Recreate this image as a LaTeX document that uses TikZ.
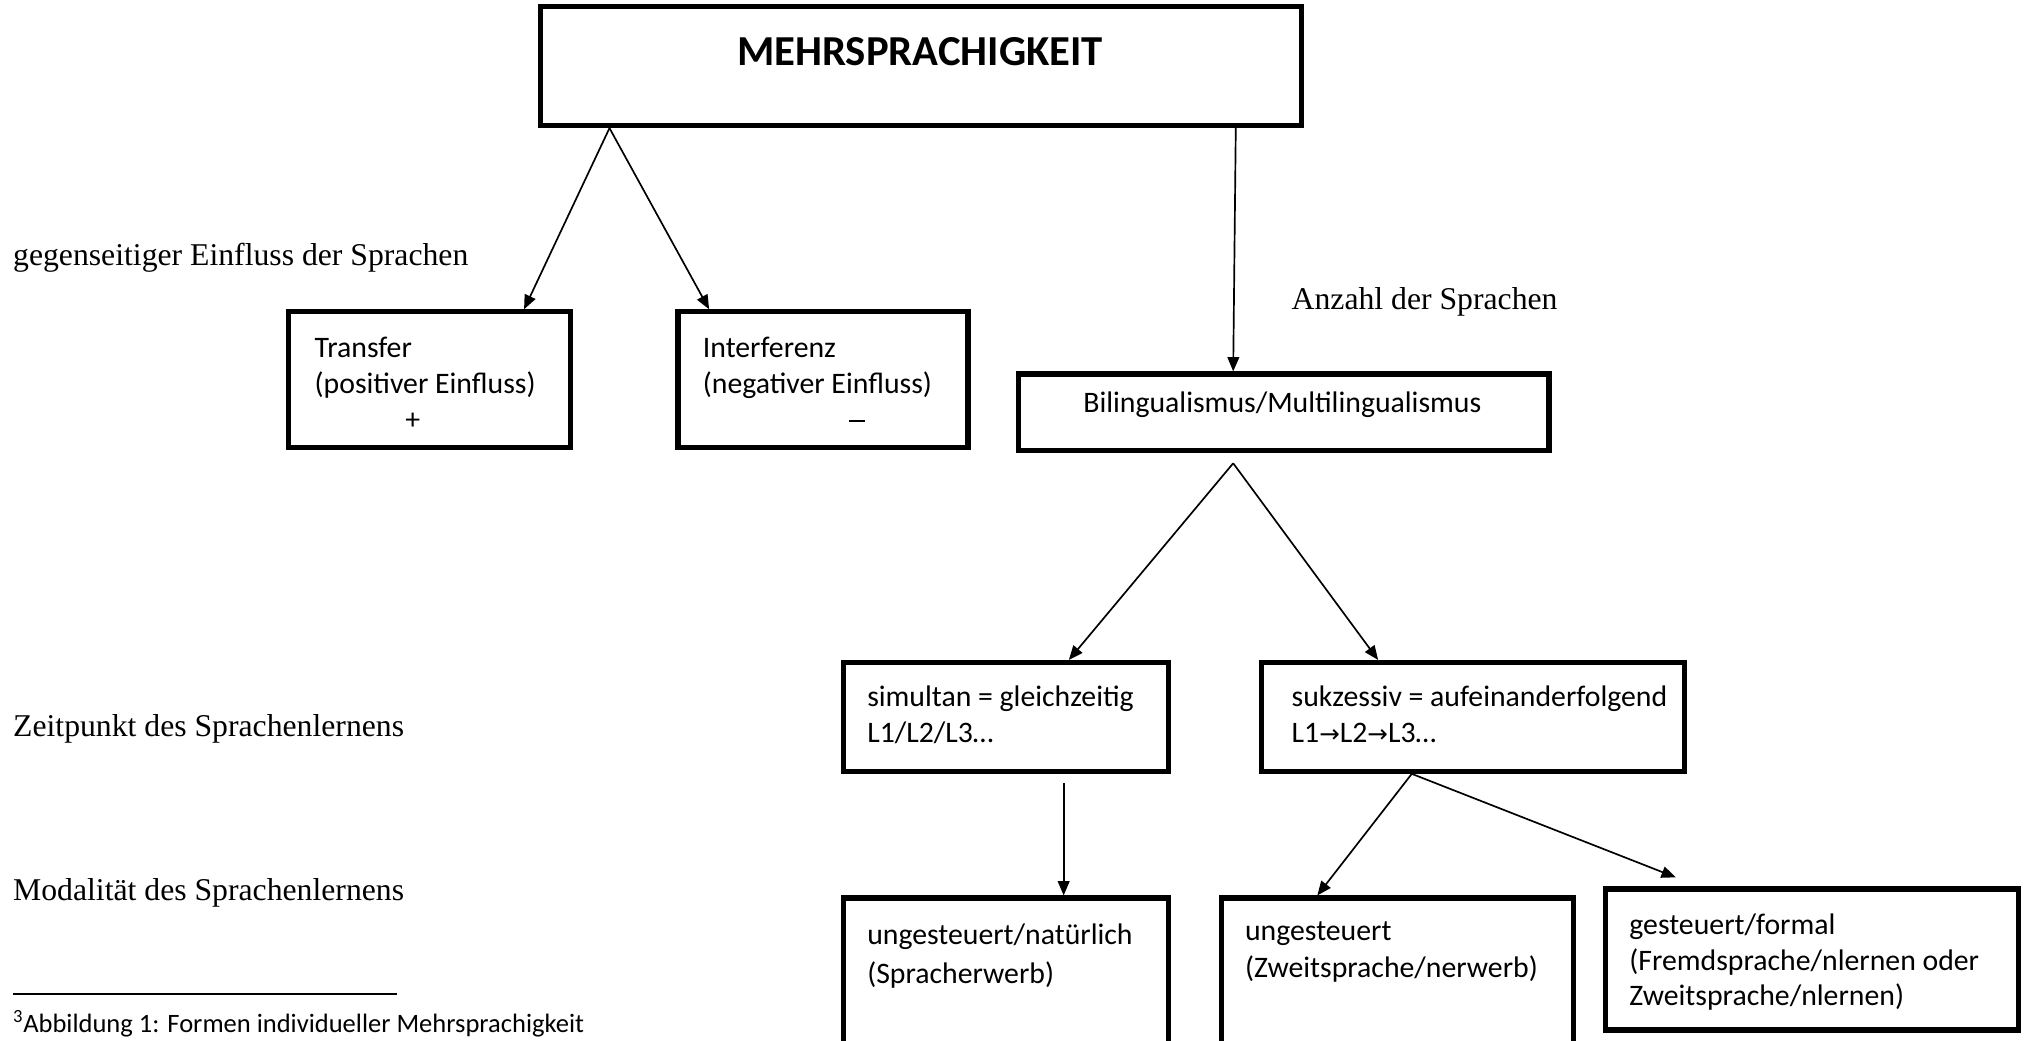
\documentclass[tikz,border=0pt]{standalone}
\usepackage{fontspec}
\setmainfont{Carlito}
\newfontfamily\timesfont{Liberation Serif}
\newfontfamily\arrowfont{DejaVu Sans}
\usetikzlibrary{arrows.meta,positioning}
\newcommand{\nextl}{{\arrowfont\fontsize{19}{20}\selectfont →}}

\begin{document}
\begin{tikzpicture}[x=1pt, y=-1pt,
  box/.style={draw, line width=4pt, inner sep=0pt},
  txt/.style={anchor=north west, inner sep=0pt, align=left, font=\fontsize{23}{28}\selectfont},
  lbl/.style={anchor=west, inner sep=0pt, font=\timesfont\fontsize{24.5}{28}\selectfont},
  arr/.style={-{Triangle[length=11pt,width=9pt]}, line width=1.3pt}]
\clip (0,0) rectangle (1568,804);
% top box
\node[box, minimum width=588pt, minimum height=92pt] (mehr) at (712,51) {};
\node[inner sep=0pt, font=\bfseries\fontsize{33}{38}\selectfont] (mehrtxt) at (711,40) {MEHRSPRACHIGKEIT};
% influence of the languages
\node[lbl] (einfluss) at (10,199) {gegenseitiger Einfluss der Sprachen};
\node[box, minimum width=218pt, minimum height=105pt] (trans) at (332,293.5) {};
\node[txt] (transtxt) at (243,260) {Transfer\\(positiver Einfluss)\\\hspace*{70pt}+};
\node[box, minimum width=224pt, minimum height=105pt] (interf) at (636,293.5) {};
\node[txt] (interftxt) at (543,260) {Interferenz\\(negativer Einfluss)\\\hspace*{113pt}\rule[6pt]{12pt}{1.4pt}};
% number of languages
\node[lbl] (anzahl) at (998,233) {Anzahl der Sprachen};
\node[box, minimum width=410pt, minimum height=59pt] (biling) at (992,318.5) {};
\node[inner sep=0pt, font=\fontsize{23}{28}\selectfont] (bilingtxt) at (991,313) {Bilingualismus/Multilingualismus};
% point in time
\node[lbl] (zeit) at (10,563) {Zeitpunkt des Sprachenlernens};
\node[box, minimum width=251pt, minimum height=84pt] (simul) at (777.5,554) {};
\node[txt] (simultxt) at (670,530) {simultan = gleichzeitig\\L1/L2/L3…};
\node[box, minimum width=327pt, minimum height=84pt] (sukz) at (1138.5,554) {};
\node[txt] (sukztxt) at (998,530) {sukzessiv = aufeinanderfolgend\\L1\nextl L2\nextl L3…};
% modality
\node[lbl] (modal) at (10,690) {Modalität des Sprachenlernens};
\node[box, minimum width=251pt, minimum height=126pt] (natur) at (777.5,757) {};
\node[txt, font=\fontsize{23}{30}\selectfont] (naturtxt) at (670,714) {ungesteuert/natürlich\\(Spracherwerb)};
\node[box, minimum width=272pt, minimum height=126pt] (zweit) at (1080,757) {};
\node[txt, font=\fontsize{23}{29}\selectfont] (zweittxt) at (962,712) {ungesteuert\\(Zweitsprache/nerwerb)};
\node[box, minimum width=319pt, minimum height=109pt] (formal) at (1400.5,741.5) {};
\node[txt, font=\fontsize{23}{27.5}\selectfont] (formaltxt) at (1259,706) {gesteuert/formal\\(Fremdsprache/nlernen oder\\Zweitsprache/nlernen)};
% footnote
\node[anchor=west, inner sep=0pt, font=\fontsize{20.5}{22}\selectfont] (fnote) at (10,791) {\textsuperscript{3}Abbildung 1: Formen individueller Mehrsprachigkeit};
\draw[line width=1.5pt] (10,768) -- (307,768);
% arrows
\draw[arr] ([xshift=55pt]mehr.south west) -- ([xshift=-38pt]trans.north east);
\draw[arr] ([xshift=55pt]mehr.south west) -- ([xshift=26pt]interf.north west);
\draw[arr] ([xshift=-53pt]mehr.south east) -- ([xshift=168pt]biling.north west);
\coordinate (bfork) at ([shift={(168,8)}]biling.south west);
\draw[arr] (bfork) -- ([xshift=176pt]simul.north west);
\draw[arr] (bfork) -- ([xshift=92pt]sukz.north west);
\draw[arr] ([shift={(172,7)}]simul.south west) -- ([xshift=172pt]natur.north west);
\coordinate (sfork) at ([xshift=118pt]sukz.south west);
\draw[arr] (sfork) -- ([xshift=76pt]zweit.north west);
\draw[arr] (sfork) -- ([shift={(56,-7)}]formal.north west);
\end{tikzpicture}
\end{document}
